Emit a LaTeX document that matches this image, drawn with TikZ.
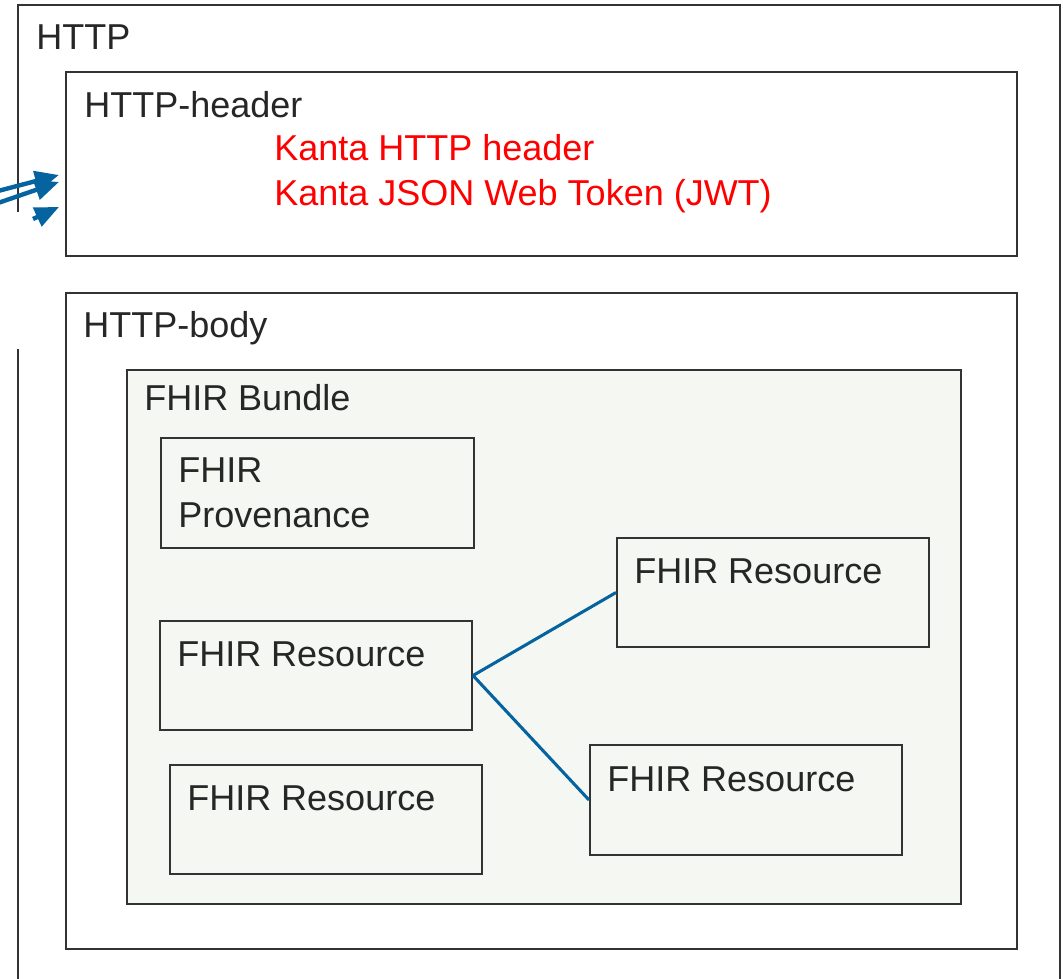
\documentclass[tikz,border=0pt]{standalone}
\usepackage{fontspec}
\setmainfont{Liberation Sans}
\usetikzlibrary{arrows.meta}
\definecolor{frame}{HTML}{333333}
\definecolor{txt}{HTML}{262626}
\definecolor{linkblue}{HTML}{0563A0}
\definecolor{bundlefill}{HTML}{F5F8F2}
\definecolor{kred}{HTML}{FF0000}
\tikzset{
  box/.style={draw=frame, line width=1.5pt, inner sep=0pt, anchor=north west},
  lbl/.style={inner sep=0pt, anchor=base west, text=txt, font=\fontsize{27pt}{32pt}\selectfont},
  redlbl/.style={lbl, text=kred},
  link/.style={draw=linkblue, line width=2.3pt},
  inarrow/.style={draw=linkblue, line width=3.3pt, -{Triangle[length=18pt,width=15pt]}}
}
\begin{document}
\begin{tikzpicture}[x=0.75pt,y=-0.75pt]
\useasboundingbox (0,0) rectangle (1063,978);
% outer HTTP frame (open at bottom, gap on the left)
\draw[frame, line width=1.5pt] (18,212) -- (18,5) -- (1060,5) -- (1060,985);
\draw[frame, line width=1.5pt] (18,349) -- (18,985);
\node[lbl] (thttp) at (36,49) {HTTP};
% header
\node[box, minimum width=951*0.75pt, minimum height=184*0.75pt] (header) at (65,71) {};
\node[lbl] (theader) at (84,117) {HTTP-header};
\node[redlbl] (k1) at (274,160) {Kanta HTTP header};
\node[redlbl] (k2) at (274,205) {Kanta JSON Web Token (JWT)};
% body
\node[box, minimum width=951*0.75pt, minimum height=656*0.75pt] (body) at (65,292) {};
\node[lbl] (tbody) at (83,337) {HTTP-body};
% bundle
\node[box, fill=bundlefill, minimum width=834*0.75pt, minimum height=534*0.75pt] (bundle) at (126,369) {};
\node[lbl] (tbundle) at (144,410) {FHIR Bundle};
% inner boxes
\node[box, minimum width=313*0.75pt, minimum height=110*0.75pt] (prov) at (160,437) {};
\node[lbl] (tprov1) at (178,482) {FHIR};
\node[lbl] (tprov2) at (178,527) {Provenance};
\node[box, minimum width=312*0.75pt, minimum height=109*0.75pt] (r1) at (159,620) {};
\node[lbl] (tr1) at (177,666) {FHIR Resource};
\node[box, minimum width=312*0.75pt, minimum height=109*0.75pt] (r4) at (169,764) {};
\node[lbl] (tr4) at (187,810) {FHIR Resource};
\node[box, minimum width=312*0.75pt, minimum height=109*0.75pt] (r2) at (616,537) {};
\node[lbl] (tr2) at (634,583) {FHIR Resource};
\node[box, minimum width=312*0.75pt, minimum height=110*0.75pt] (r3) at (589,744) {};
\node[lbl] (tr3) at (607,791) {FHIR Resource};
% connectors
\draw[link] (r1.east) -- (r2.west);
\draw[link] (r1.east) -- (r3.west);
% incoming arrows
\coordinate (a1s) at (-2,191);
\coordinate (a1e) at (59,175);
\coordinate (a2s) at (-2,203);
\coordinate (a2e) at (59,182);
\coordinate (a3s) at (33,219);
\coordinate (a3e) at (59,207);
\draw[inarrow] (a1s) -- (a1e);
\draw[inarrow] (a2s) -- (a2e);
\draw[inarrow] (a3s) -- (a3e);
\end{tikzpicture}
\end{document}
